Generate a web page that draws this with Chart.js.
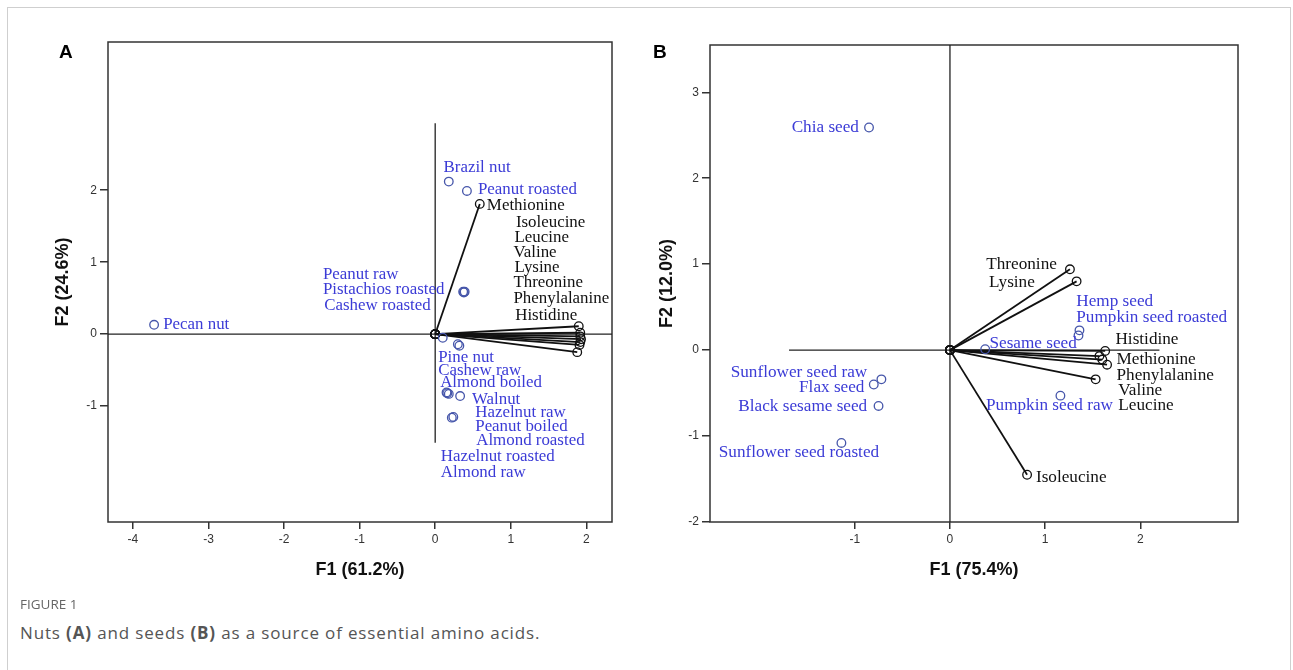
<!DOCTYPE html>
<html>
<head>
<meta charset="utf-8">
<script src="https://cdn.jsdelivr.net/npm/chart.js@4.4.1/dist/chart.umd.min.js"></script>
<style>
  body { margin: 0; background: #fff; width: 1293px; height: 670px; overflow: hidden; position: relative; }
  .frame { position: absolute; left: 7px; top: 7px; width: 1282px; height: 700px; border: 1px solid #cfcfcf; border-bottom: none; }
  canvas { position: absolute; top: 0; }
  #chartA { left: 0; }
  #chartB { left: 640px; }
  .tag { position: absolute; font: bold 19px 'Liberation Sans', Arial, sans-serif; color: #000; line-height: 20px; }
  .fig { position: absolute; left: 20px; top: 595px; font: 13.5px 'Open Sans', sans-serif; color: #666; }
  .cap { position: absolute; left: 20px; top: 621px; font: 17px 'Open Sans', sans-serif; letter-spacing: 0.85px; color: #555; }
</style>
</head>
<body>
<div class="frame"></div>
<canvas id="chartA" width="640" height="600"></canvas>
<canvas id="chartB" width="650" height="600"></canvas>
<div class="tag" style="left:59px; top:42px;">A</div>
<div class="tag" style="left:653px; top:42px;">B</div>
<div class="fig">FIGURE 1</div>
<div class="cap">Nuts <b>(A)</b> and seeds <b>(B)</b> as a source of essential amino acids.</div>

<script>
// ---- panel A : nuts ----
var nutNames = ['Pecan nut', 'Brazil nut', 'Peanut roasted', 'Peanut raw', 'Pistachios roasted', 'Cashew roasted',
    'Pine nut', 'Cashew raw', 'Almond boiled', 'Walnut', 'Hazelnut raw', 'Peanut boiled', 'Almond roasted',
    'Hazelnut roasted', 'Almond raw'];
var nutF1 = [-3.72, 0.18, 0.42, 0.37, 0.38, 0.39, 0.10, 0.30, 0.32, 0.33, 0.16, 0.18, 0.22, 0.15, 0.24];
var nutF2 = [0.13, 2.12, 1.99, 0.59, 0.58, 0.59, -0.05, -0.14, -0.16, -0.86, -0.82, -0.83, -1.16, -0.81, -1.15];

var aminoA = ['Methionine', 'Isoleucine', 'Leucine', 'Valine', 'Lysine', 'Threonine', 'Phenylalanine', 'Histidine'];
var aminoAF1 = [0.59, 1.90, 1.92, 1.92, 1.93, 1.92, 1.91, 1.88];
var aminoAF2 = [1.81, 0.11, 0.02, -0.03, -0.07, -0.11, -0.15, -0.25];

var ticksAF1 = [-4, -3, -2, -1, 0, 1, 2];
var ticksAF2 = [-1, 0, 1, 2];

// ---- panel B : seeds ----
var seedNames = ['Chia seed', 'Hemp seed', 'Pumpkin seed roasted', 'Sesame seed', 'Pumpkin seed raw',
    'Sunflower seed raw', 'Flax seed', 'Black sesame seed', 'Sunflower seed roasted'];
var seedF1 = [-0.85, 1.36, 1.35, 0.37, 1.16, -0.72, -0.80, -0.75, -1.14];
var seedF2 = [2.59, 0.23, 0.17, 0.01, -0.53, -0.34, -0.40, -0.65, -1.08];

var aminoB = ['Threonine', 'Lysine', 'Histidine', 'Methionine', 'Phenylalanine', 'Valine', 'Leucine', 'Isoleucine'];
var aminoBF1 = [1.26, 1.33, 1.63, 1.57, 1.60, 1.65, 1.53, 0.81];
var aminoBF2 = [0.94, 0.80, -0.01, -0.07, -0.11, -0.17, -0.34, -1.45];

var ticksBF1 = [-1, 0, 1, 2];
var ticksBF2 = [-2, -1, 0, 1, 2, 3];

// label placement (data units: x, y, align) - layout only
var labelPosA = {
    'Pecan nut': [-3.60, 0.13, 'left'],
    'Brazil nut': [0.11, 2.31, 'left'],
    'Peanut roasted': [0.565, 2.01, 'left'],
    'Peanut raw': [-1.486, 0.833, 'left'],
    'Pistachios roasted': [-1.486, 0.625, 'left'],
    'Cashew roasted': [-1.469, 0.403, 'left'],
    'Pine nut': [0.04, -0.33, 'left'],
    'Cashew raw': [0.04, -0.50, 'left'],
    'Almond boiled': [0.066, -0.667, 'left'],
    'Walnut': [0.486, -0.903, 'left'],
    'Hazelnut raw': [0.53, -1.083, 'left'],
    'Peanut boiled': [0.53, -1.278, 'left'],
    'Almond roasted': [0.543, -1.482, 'left'],
    'Hazelnut roasted': [0.075, -1.694, 'left'],
    'Almond raw': [0.075, -1.917, 'left'],
    'Methionine': [0.684, 1.79, 'left'],
    'Isoleucine': [1.068, 1.546, 'left'],
    'Leucine': [1.05, 1.337, 'left'],
    'Valine': [1.036, 1.129, 'left'],
    'Lysine': [1.05, 0.92, 'left'],
    'Threonine': [1.036, 0.713, 'left'],
    'Phenylalanine': [1.036, 0.49, 'left'],
    'Histidine': [1.059, 0.264, 'left']
};
var labelPosB = {
    'Chia seed': [-0.956, 2.593, 'right'],
    'Threonine': [0.381, 1.001, 'left'],
    'Lysine': [0.41, 0.783, 'left'],
    'Hemp seed': [1.327, 0.562, 'left'],
    'Pumpkin seed roasted': [1.327, 0.381, 'left'],
    'Histidine': [1.738, 0.125, 'left'],
    'Sesame seed': [0.415, 0.073, 'left'],
    'Methionine': [1.749, -0.108, 'left'],
    'Phenylalanine': [1.749, -0.299, 'left'],
    'Valine': [1.768, -0.466, 'left'],
    'Leucine': [1.768, -0.64, 'left'],
    'Pumpkin seed raw': [1.712, -0.64, 'right'],
    'Isoleucine': [0.903, -1.487, 'left'],
    'Sunflower seed raw': [-0.869, -0.264, 'right'],
    'Flax seed': [-0.898, -0.439, 'right'],
    'Black sesame seed': [-0.869, -0.66, 'right'],
    'Sunflower seed roasted': [-0.744, -1.196, 'right']
};

var BLUE_TXT = '#3b3bd6';
var BLUE_PT = '#4656aa';
var TICK_FONT = { family: "'Liberation Sans', Arial, sans-serif", size: 12 };
var TITLE_FONT = { family: "'Liberation Sans', Arial, sans-serif", size: 18, weight: 'bold' };

var boxPlugin = {
    id: 'box',
    beforeDatasetsDraw: function (chart) {
        var a = chart.chartArea, ctx = chart.ctx;
        ctx.save();
        ctx.strokeStyle = '#333';
        ctx.lineWidth = 1.5;
        ctx.strokeRect(a.left, a.top, a.right - a.left, a.bottom - a.top);
        ctx.restore();
    }
};

var labelPlugin = {
    id: 'labels',
    afterDatasetsDraw: function (chart, args, opts) {
        var ctx = chart.ctx, sx = chart.scales.x, sy = chart.scales.y;
        ctx.save();
        ctx.font = opts.size + "px 'Liberation Serif', 'Times New Roman', serif";
        ctx.textBaseline = 'middle';
        opts.items.forEach(function (it) {
            var p = opts.pos[it.name];
            ctx.fillStyle = it.color;
            ctx.textAlign = p[2];
            ctx.fillText(it.name, sx.getPixelForValue(p[0]), sy.getPixelForValue(p[1]));
        });
        ctx.restore();
    }
};

function makePanel(id, p) {
    var datasets = [];
    datasets.push({
        data: p.obsF1.map(function (x, i) { return { x: x, y: p.obsF2[i] }; }),
        pointRadius: 4.3, pointBorderWidth: 1.3, pointBorderColor: BLUE_PT,
        pointBackgroundColor: 'rgba(0,0,0,0)', showLine: false
    });
    p.varF1.forEach(function (x, i) {
        datasets.push({
            data: [{ x: 0, y: 0 }, { x: x, y: p.varF2[i] }],
            showLine: true, borderColor: '#111', borderWidth: 1.8,
            pointRadius: 4.3, pointBorderWidth: 1.3, pointBorderColor: '#111',
            pointBackgroundColor: 'rgba(0,0,0,0)'
        });
    });
    datasets.push({
        data: p.guideV.map(function (v) { return { x: 0, y: v }; }),
        showLine: true, borderColor: '#222', borderWidth: 1.3, pointRadius: 0
    });
    datasets.push({
        data: p.guideH.map(function (v) { return { x: v, y: 0 }; }),
        showLine: true, borderColor: '#222', borderWidth: 1.3, pointRadius: 0
    });

    var items = p.obsNames.map(function (n) { return { name: n, color: BLUE_TXT }; })
        .concat(p.varNames.map(function (n) { return { name: n, color: '#111' }; }));

    return new Chart(document.getElementById(id), {
        type: 'scatter',
        data: { datasets: datasets },
        options: {
            responsive: false,
            animation: false,
            events: [],
            layout: { padding: p.pad },
            plugins: {
                legend: { display: false },
                tooltip: { enabled: false },
                labels: { items: items, pos: p.labelPos, size: p.labelSize }
            },
            scales: {
                x: {
                    type: 'linear', min: p.xRange[0], max: p.xRange[1],
                    afterBuildTicks: function (s) { s.ticks = p.ticksF1.map(function (v) { return { value: v }; }); },
                    afterFit: function (s) { s.height = 60; },
                    border: { display: false },
                    grid: { drawOnChartArea: false, tickLength: 7, color: '#333', lineWidth: 1.5 },
                    ticks: { font: TICK_FONT, color: '#333', padding: 3 },
                    title: { display: true, text: p.xTitle, font: TITLE_FONT, color: '#111', padding: { top: 0, bottom: 1 } }
                },
                y: {
                    type: 'linear', min: p.yRange[0], max: p.yRange[1],
                    afterBuildTicks: function (s) { s.ticks = p.ticksF2.map(function (v) { return { value: v }; }); },
                    afterFit: function (s) { s.width = 60; },
                    border: { display: false },
                    grid: { drawOnChartArea: false, tickLength: 8, color: '#333', lineWidth: 1.5 },
                    ticks: { font: TICK_FONT, color: '#333', padding: 3 },
                    title: { display: true, text: p.yTitle, font: TITLE_FONT, color: '#111', padding: { top: p.yTitlePad, bottom: 0 } }
                }
            }
        },
        plugins: [boxPlugin, labelPlugin]
    });
}

makePanel('chartA', {
    obsNames: nutNames, obsF1: nutF1, obsF2: nutF2,
    varNames: aminoA, varF1: aminoAF1, varF2: aminoAF2,
    ticksF1: ticksAF1, ticksF2: ticksAF2,
    xRange: [-4.33, 2.34], yRange: [-2.61, 4.06],
    guideV: [2.93, -1.51], guideH: [-4.33, 2.34],
    xTitle: 'F1 (61.2%)', yTitle: 'F2 (24.6%)',
    labelPos: labelPosA, labelSize: 16.9,
    pad: { left: 48, right: 28, top: 42, bottom: 18 }, yTitlePad: 4
});

makePanel('chartB', {
    obsNames: seedNames, obsF1: seedF1, obsF2: seedF2,
    varNames: aminoB, varF1: aminoBF1, varF2: aminoBF2,
    ticksF1: ticksBF1, ticksF2: ticksBF2,
    xRange: [-2.52, 3.025], yRange: [-2.0, 3.55],
    guideV: [-2.0, 3.55], guideH: [-1.69, 2.2],
    xTitle: 'F1 (75.4%)', yTitle: 'F2 (12.0%)',
    labelPos: labelPosB, labelSize: 17.2,
    pad: { left: 10, right: 52, top: 45, bottom: 18 }, yTitlePad: 6
});
</script>
</body>
</html>
